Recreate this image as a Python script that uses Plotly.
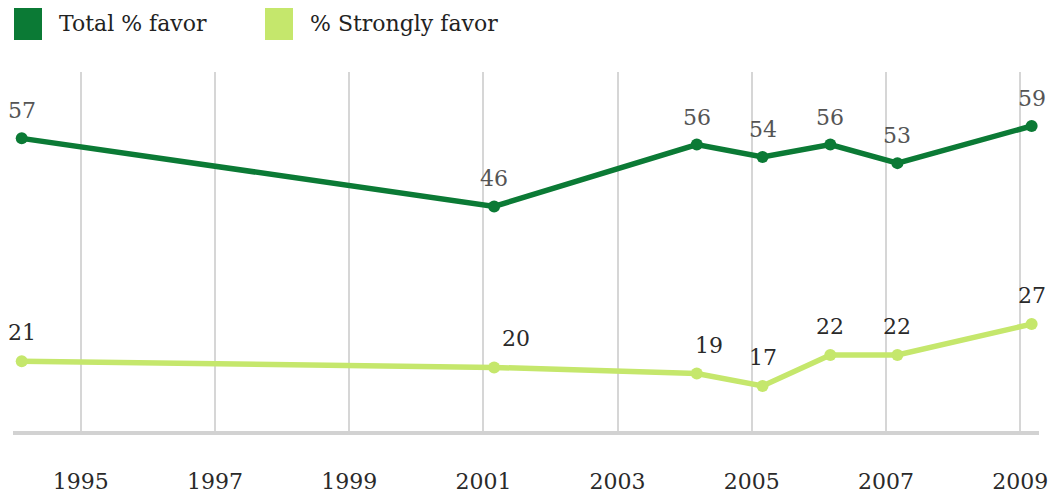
import plotly.graph_objects as go

# ---- data ----
years = [1994.12, 2001.16, 2004.18, 2005.16, 2006.17, 2007.17, 2009.17]
total_favor = [57, 46, 56, 54, 56, 53, 59]
strongly_favor = [21, 20, 19, 17, 22, 22, 27]
tick_years = [1995, 1997, 1999, 2001, 2003, 2005, 2007, 2009]
series_names = ["Total % favor", "% Strongly favor"]

# ---- style ----
DARK = "#0b7a35"
LIGHT = "#c5e76c"
FONT = "DejaVu Serif"
W, H = 1052, 494
ML, MR, MT, MB = 13, 13, 72, 63
PW, PH = W - ML - MR, H - MT - MB
label_xshift_strong = [0, 22, 12, 0, 0, 0, 0]

def px_to_paper_x(px):
    return (px - ML) / PW

def px_to_paper_y(py):
    return (H - MB - py) / PH

fig = go.Figure()
fig.add_trace(go.Scatter(x=years, y=total_favor, mode="lines+markers",
                         line=dict(color=DARK, width=5.5), marker=dict(color=DARK, size=12),
                         name=series_names[0], showlegend=False, hoverinfo="skip"))
fig.add_trace(go.Scatter(x=years, y=strongly_favor, mode="lines+markers",
                         line=dict(color=LIGHT, width=5.5), marker=dict(color=LIGHT, size=12),
                         name=series_names[1], showlegend=False, hoverinfo="skip"))

annotations = []
for x, y in zip(years, total_favor):
    annotations.append(dict(x=x, y=y, text=str(y), showarrow=False, yanchor="bottom",
                            yshift=13, font=dict(family=FONT, size=22, color="#555555")))
for x, y, dx in zip(years, strongly_favor, label_xshift_strong):
    annotations.append(dict(x=x, y=y, text=str(y), showarrow=False, yanchor="bottom",
                            yshift=14, xshift=dx, font=dict(family=FONT, size=22, color="#2a2a2a")))

# legend (custom)
shapes = []
legend_items = [(14, 57, DARK), (265, 308, LIGHT)]
for (sq_x, tx, col), name in zip(legend_items, series_names):
    shapes.append(dict(type="rect", xref="paper", yref="paper",
                       x0=px_to_paper_x(sq_x), x1=px_to_paper_x(sq_x + 28),
                       y0=px_to_paper_y(40), y1=px_to_paper_y(8),
                       fillcolor=col, line=dict(width=0)))
    annotations.append(dict(xref="paper", yref="paper", x=px_to_paper_x(tx), y=px_to_paper_y(23),
                            xanchor="left", yanchor="middle", text=name, showarrow=False,
                            font=dict(family=FONT, size=22, color="#222222")))

fig.update_layout(
    width=W, height=H,
    margin=dict(l=ML, r=MR, t=MT, b=MB, autoexpand=False),
    paper_bgcolor="white", plot_bgcolor="white",
    showlegend=False,
    shapes=shapes,
    annotations=annotations,
    xaxis=dict(range=[1993.99, 2009.28], tickmode="array", tickvals=tick_years,
               ticktext=[str(t) for t in tick_years], showgrid=True,
               gridcolor="#d6d6d6", gridwidth=1.5, zeroline=False,
               showline=True, linecolor="#d2d2d2", linewidth=4,
               ticks="", ticklabelstandoff=28, automargin=False,
               tickfont=dict(family=FONT, size=22, color="#2a2a2a")),
    yaxis=dict(range=[9.73, 67.72], showgrid=False, zeroline=False,
               showticklabels=False, showline=False, automargin=False),
)

fig.write_html("out.html")
